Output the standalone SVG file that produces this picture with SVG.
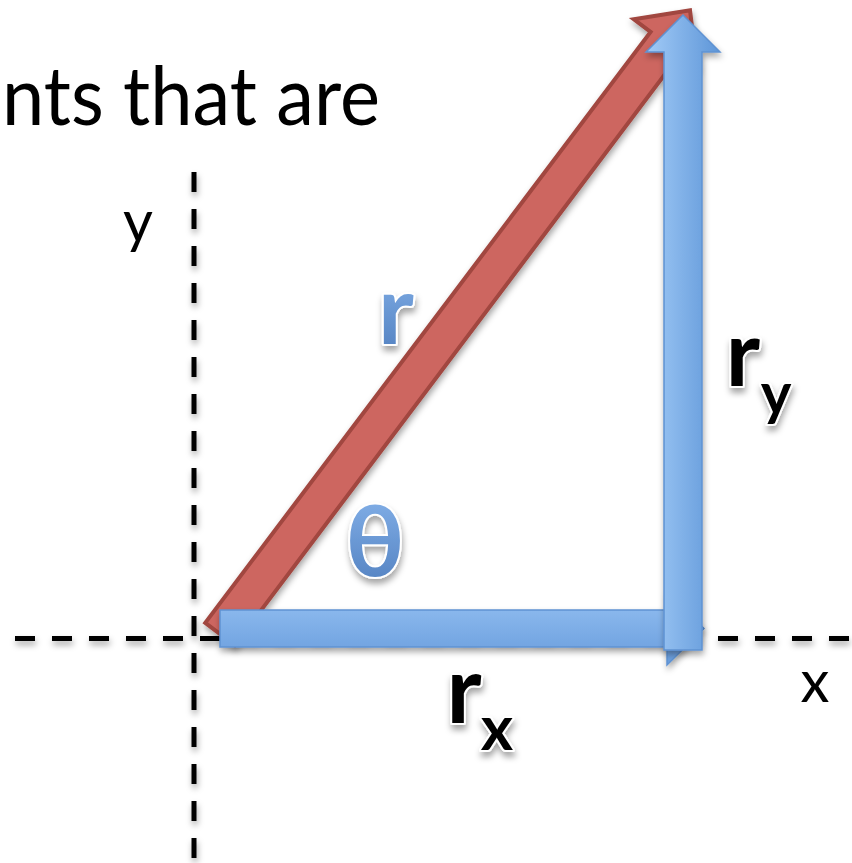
<svg xmlns="http://www.w3.org/2000/svg" width="852" height="863" viewBox="0 0 852 863">
<defs>
<style>
.axis{stroke:#000;stroke-width:5;stroke-dasharray:20 17;fill:none}
.lbl{font-family:Lato,"Open Sans","Liberation Sans",sans-serif;fill:#000}
.big{font-family:Lato,"Open Sans","Liberation Sans",sans-serif;font-weight:bold;stroke:#fff;stroke-width:4;paint-order:stroke;stroke-linejoin:round}
.blu{fill:url(#gtxt)}
.blk{fill:#000}
.red{fill:#cd6660;stroke:#a1463f;stroke-width:4;stroke-linejoin:miter}
.bar{stroke:#5f92d2;stroke-width:1.5}
</style>
<linearGradient id="gv" x1="0" y1="0" x2="1" y2="0">
<stop offset="0" stop-color="#a2cbf7"/><stop offset="1" stop-color="#5e96d8"/>
</linearGradient>
<linearGradient id="gh" x1="0" y1="0" x2="0" y2="1">
<stop offset="0" stop-color="#95c0f2"/><stop offset="1" stop-color="#679cdc"/>
</linearGradient>
<linearGradient id="gtxt" x1="0" y1="0" x2="0" y2="1">
<stop offset="0" stop-color="#8ab7ee"/><stop offset="1" stop-color="#4e7dbd"/>
</linearGradient>
<filter id="sh" x="-20%" y="-20%" width="140%" height="140%">
<feDropShadow dx="1" dy="4" stdDeviation="3" flood-color="#000" flood-opacity="0.35"/>
</filter>
<filter id="tsh" x="-30%" y="-30%" width="160%" height="160%">
<feDropShadow dx="1" dy="5" stdDeviation="3" flood-color="#000" flood-opacity="0.35"/>
</filter>
</defs>
<rect width="852" height="863" fill="#fff"/>
<text x="2" y="125" class="lbl" font-size="82" textLength="378" lengthAdjust="spacingAndGlyphs">nts that are</text>
<g id="connectors">
<g id="axes" filter="url(#sh)">
<line class="axis" x1="15" y1="638.5" x2="852" y2="638.5"/>
<line class="axis" x1="194" y1="172" x2="194" y2="863"/>
</g>
</g>
<g id="r-vector" filter="url(#sh)">
<polygon class="red" transform="translate(220,634) rotate(-53)" points="0,-18.5 740,-18.5 740,-39.5 781,0 740,39.5 740,18.5 0,18.5"/>
</g>
<g id="rx-vector" filter="url(#sh)">
<polygon class="bar" fill="url(#gh)" points="220,610 667,610 667,592 704,628.5 667,665 667,647 220,647"/>
</g>
<g id="ry-vector" filter="url(#sh)">
<polygon class="bar" fill="url(#gv)" points="664,650 664,52 646,52 683,15 720,52 702,52 702,650"/>
</g>
<g id="label-y"><text x="138" y="242" class="lbl" font-size="58" text-anchor="middle">y</text></g>
<g id="label-x"><text x="815" y="702" class="lbl" font-size="58" text-anchor="middle">x</text></g>
<g id="label-r" filter="url(#tsh)"><text x="396" y="344" class="big blu" font-size="96" text-anchor="middle">r</text></g>
<g id="label-theta" filter="url(#tsh)"><text x="375" y="576" class="big blu" font-size="98" text-anchor="middle" font-weight="600">θ</text></g>
<g id="label-ry" filter="url(#tsh)"><text x="743" y="386" class="big blk" font-size="92" text-anchor="middle">r</text><text x="776" y="414" class="big blk" font-size="58" text-anchor="middle">y</text></g>
<g id="label-rx" filter="url(#tsh)"><text x="464" y="723" class="big blk" font-size="94" text-anchor="middle">r</text><text x="497" y="750" class="big blk" font-size="62" text-anchor="middle">x</text></g>
</svg>
